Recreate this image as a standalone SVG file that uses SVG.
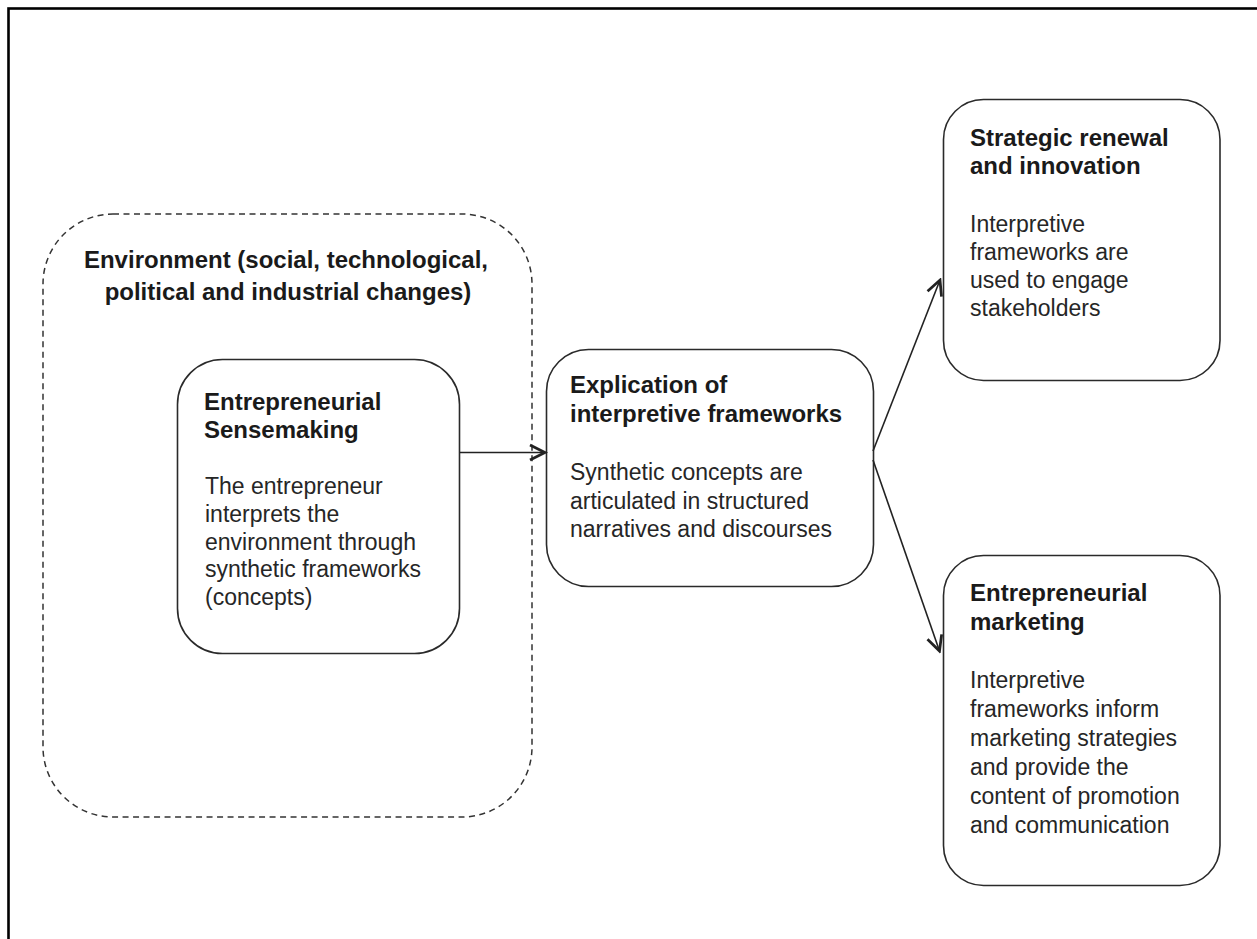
<svg xmlns="http://www.w3.org/2000/svg" width="1257" height="939" viewBox="0 0 1257 939">
<style>
.box{fill:#fff;stroke:#2a2a2a;stroke-width:1.6}
.env{fill:none;stroke:#333;stroke-width:1.5;stroke-dasharray:6 4.5}
.t{font-family:"Liberation Sans",Arial,sans-serif;font-size:24px;font-weight:bold;fill:#1a1a1a}
.b{font-family:"Liberation Sans",Arial,sans-serif;font-size:23px;fill:#262626}
.c{fill:none;stroke:#222;stroke-width:1.6}
</style>
<defs>
<marker id="arr" markerUnits="userSpaceOnUse" markerWidth="20" markerHeight="20" viewBox="-14 -8 16 16" refX="0" refY="0" orient="auto">
<path d="M-12,-6 L0,0 L-12,6" fill="none" stroke="#222" stroke-width="2.2" stroke-linejoin="miter"/>
</marker>
</defs>
<rect x="0" y="0" width="1257" height="939" fill="#fff"/>
<rect id="frame" x="8.5" y="8.5" width="1300" height="1000" fill="none" stroke="#000" stroke-width="2.6"/>
<g id="environment">
<rect class="env" x="43" y="214" width="489" height="603" rx="70" ry="70"/>
<text class="t" text-anchor="middle" x="286" y="268">Environment (social, technological,</text>
<text class="t" text-anchor="middle" x="288" y="300">political and industrial changes)</text>
</g>
<g id="sensemaking">
<rect class="box" x="177.5" y="359.5" width="282" height="294" rx="45" ry="45"/>
<text class="t" x="204" y="410">Entrepreneurial</text>
<text class="t" x="204" y="438">Sensemaking</text>
<text class="b" x="205" y="494">The entrepreneur</text>
<text class="b" x="205" y="522">interprets the</text>
<text class="b" x="205" y="549.5">environment through</text>
<text class="b" x="205" y="577">synthetic frameworks</text>
<text class="b" x="205" y="605">(concepts)</text>
</g>
<g id="explication">
<rect class="box" x="546.5" y="349.5" width="327" height="237" rx="42" ry="42"/>
<text class="t" x="570" y="393">Explication of</text>
<text class="t" x="570" y="422">interpretive frameworks</text>
<text class="b" x="570" y="480">Synthetic concepts are</text>
<text class="b" x="570" y="508.5">articulated in structured</text>
<text class="b" x="570" y="537">narratives and discourses</text>
</g>
<g id="strategic">
<rect class="box" x="943.5" y="99.5" width="276.5" height="281" rx="40" ry="40"/>
<text class="t" x="970" y="146">Strategic renewal</text>
<text class="t" x="970" y="174">and innovation</text>
<text class="b" x="970" y="232">Interpretive</text>
<text class="b" x="970" y="260">frameworks are</text>
<text class="b" x="970" y="288">used to engage</text>
<text class="b" x="970" y="316">stakeholders</text>
</g>
<g id="marketing">
<rect class="box" x="943.5" y="555.5" width="276.5" height="330" rx="40" ry="40"/>
<text class="t" x="970" y="601">Entrepreneurial</text>
<text class="t" x="970" y="630">marketing</text>
<text class="b" x="970" y="688">Interpretive</text>
<text class="b" x="970" y="717">frameworks inform</text>
<text class="b" x="970" y="746">marketing strategies</text>
<text class="b" x="970" y="775">and provide the</text>
<text class="b" x="970" y="804">content of promotion</text>
<text class="b" x="970" y="833">and communication</text>
</g>
<g id="connectors">
<line class="c" x1="460" y1="452.5" x2="545" y2="452.5" marker-end="url(#arr)"/>
<line class="c" x1="873" y1="451" x2="940" y2="280" marker-end="url(#arr)"/>
<line class="c" x1="873" y1="460" x2="939.5" y2="651" marker-end="url(#arr)"/>
</g>
</svg>
